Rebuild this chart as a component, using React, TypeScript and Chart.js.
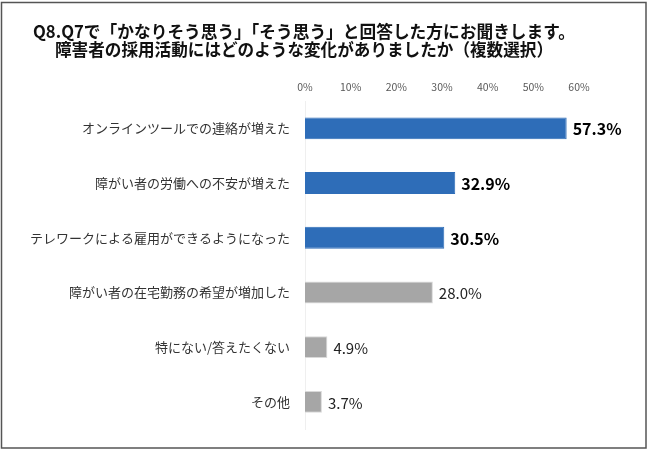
import React, { useEffect, useRef } from "react";
import { Chart, registerables } from "chart.js";

Chart.register(...registerables);

const titleLines = [
  "Q8.Q7で「かなりそう思う」「そう思う」と回答した方にお聞きします。",
  "障害者の採用活動にはどのような変化がありましたか（複数選択）",
];
const categories = [
  "オンラインツールでの連絡が増えた",
  "障がい者の労働への不安が増えた",
  "テレワークによる雇用ができるようになった",
  "障がい者の在宅勤務の希望が増加した",
  "特にない/答えたくない",
  "その他",
];
const values = [57.3, 32.9, 30.5, 28.0, 4.9, 3.7];
const highlighted = [true, true, true, false, false, false];
const xTickMax = 60;
const xTickStep = 10;

const FONT = "'Noto Sans CJK JP', 'Noto Sans', sans-serif";

export default function App() {
  const ref = useRef<HTMLCanvasElement | null>(null);
  useEffect(() => {
    document.body.style.margin = "0";
    const canvas = ref.current!;
    const decor = {
      id: "decor",
      afterDraw(chart: any) {
        const ctx = chart.ctx;
        ctx.save();
        // title
        ctx.fillStyle = "#111";
        ctx.font = `bold 17.5px ${FONT}`;
        ctx.textAlign = "center";
        ctx.textBaseline = "middle";
        ctx.fillText(titleLines[0], 304, 31, 542);
        ctx.fillText(titleLines[1], 304, 49, 498);
        // value labels
        const meta = chart.getDatasetMeta(0);
        meta.data.forEach((bar: any, i: number) => {
          const hl = highlighted[i];
          ctx.font = hl ? `bold 16px ${FONT}` : `15px ${FONT}`;
          ctx.fillStyle = hl ? "#000" : "#222";
          ctx.textAlign = "left";
          ctx.fillText(values[i].toFixed(1) + "%", bar.x + 6, bar.y + 1);
        });
        // outer frame
        ctx.strokeStyle = "#555";
        ctx.lineWidth = 1.5;
        ctx.strokeRect(1.5, 2.5, 644.5, 445.5);
        ctx.restore();
      },
    };
    const chart = new Chart(canvas, {
      type: "bar",
      data: {
        labels: categories,
        datasets: [
          {
            data: values,
            backgroundColor: highlighted.map((h) => (h ? "#2e6db8" : "#a6a6a6")),
            borderColor: highlighted.map((h) => (h ? "#2e6db8" : "#d9d9d9")),
            borderWidth: 1,
            barPercentage: 0.8,
            categoryPercentage: 0.5,
          },
        ],
      },
      options: {
        indexAxis: "y",
        responsive: false,
        animation: false,
        layout: { padding: { left: 0, right: 71, top: 0, bottom: 19 } },
        plugins: {
          legend: { display: false },
          tooltip: { enabled: false },
          title: { display: false },
        },
        scales: {
          x: {
            position: "top",
            min: 0,
            max: xTickMax,
            ticks: {
              stepSize: xTickStep,
              padding: 8,
              color: "#595959",
              font: { family: FONT, size: 10.5 },
              callback: (v: any) => v + "%",
            },
            grid: { display: false, drawTicks: false },
            border: { display: false },
            afterFit: (scale: any) => {
              scale.height = 101;
            },
          },
          y: {
            ticks: {
              padding: 15,
              color: "#333",
              font: { family: FONT, size: 13 },
            },
            grid: { display: false, drawTicks: false },
            border: { display: true, color: "#efefef", width: 1 },
            afterFit: (scale: any) => {
              scale.width = 305;
            },
          },
        },
      },
      plugins: [decor],
    });
    return () => chart.destroy();
  }, []);
  return (
    <div style={{ position: "absolute", left: 0, top: 0 }}>
      <canvas ref={ref} width={650} height={452} style={{ display: "block" }} />
    </div>
  );
}
